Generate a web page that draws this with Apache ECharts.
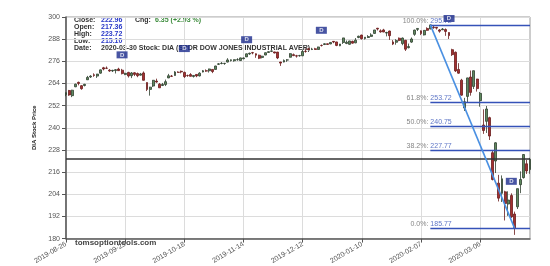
<!DOCTYPE html>
<html><head><meta charset="utf-8">
<script src="https://cdn.jsdelivr.net/npm/echarts@6/dist/echarts.min.js"></script>
<style>html,body{margin:0;padding:0;background:#fff}#c{width:550px;height:266px}</style>
</head><body><div id="c"></div>
<script>
const dates = [
'2019-08-26','2019-08-27','2019-08-28','2019-08-29','2019-08-30',
'2019-09-03','2019-09-04','2019-09-05','2019-09-06','2019-09-09','2019-09-10','2019-09-11','2019-09-12','2019-09-13',
'2019-09-16','2019-09-17','2019-09-18','2019-09-19','2019-09-20','2019-09-23','2019-09-24','2019-09-25','2019-09-26','2019-09-27','2019-09-30',
'2019-10-01','2019-10-02','2019-10-03','2019-10-04','2019-10-07','2019-10-08','2019-10-09','2019-10-10','2019-10-11',
'2019-10-14','2019-10-15','2019-10-16','2019-10-17','2019-10-18','2019-10-21','2019-10-22','2019-10-23','2019-10-24','2019-10-25',
'2019-10-28','2019-10-29','2019-10-30','2019-10-31','2019-11-01','2019-11-04','2019-11-05','2019-11-06','2019-11-07','2019-11-08',
'2019-11-11','2019-11-12','2019-11-13','2019-11-14','2019-11-15','2019-11-18','2019-11-19','2019-11-20','2019-11-21','2019-11-22',
'2019-11-25','2019-11-26','2019-11-27','2019-11-29','2019-12-02','2019-12-03','2019-12-04','2019-12-05','2019-12-06',
'2019-12-09','2019-12-10','2019-12-11','2019-12-12','2019-12-13','2019-12-16','2019-12-17','2019-12-18','2019-12-19','2019-12-20',
'2019-12-23','2019-12-24','2019-12-26','2019-12-27','2019-12-30','2019-12-31','2020-01-02','2020-01-03',
'2020-01-06','2020-01-07','2020-01-08','2020-01-09','2020-01-10','2020-01-13','2020-01-14','2020-01-15','2020-01-16','2020-01-17',
'2020-01-21','2020-01-22','2020-01-23','2020-01-24','2020-01-27','2020-01-28','2020-01-29','2020-01-30','2020-01-31',
'2020-02-03','2020-02-04','2020-02-05','2020-02-06','2020-02-07','2020-02-10','2020-02-11','2020-02-12','2020-02-13','2020-02-14',
'2020-02-18','2020-02-19','2020-02-20','2020-02-21','2020-02-24','2020-02-25','2020-02-26','2020-02-27','2020-02-28',
'2020-03-02','2020-03-03','2020-03-04','2020-03-05','2020-03-06','2020-03-09','2020-03-10','2020-03-11','2020-03-12','2020-03-13',
'2020-03-16','2020-03-17','2020-03-18','2020-03-19','2020-03-20','2020-03-23','2020-03-24','2020-03-25','2020-03-26','2020-03-27','2020-03-30'
];
const opens = [258.0,260.2,257.4,262.2,264.6,262.8,262.9,266.0,267.5,268.7,268.0,269.6,272.5,272.3,271.2,270.8,271.0,271.8,271.2,268.9,
270.0,268.2,269.8,269.4,268.5,269.7,264.5,260.8,262.6,265.3,263.6,262.9,263.4,267.0,268.0,268.3,270.1,270.6,270.0,268.3,
268.8,267.8,268.9,268.1,270.2,270.9,270.9,271.6,271.6,274.4,274.8,274.8,275.6,276.4,276.3,276.9,276.4,277.4,278.4,280.0,
280.7,280.1,279.3,278.1,279.4,280.8,281.4,281.1,281.0,275.6,275.6,276.7,278.2,279.6,279.0,279.0,279.0,281.4,282.8,282.4,
282.8,282.4,284.6,285.1,285.5,285.4,286.8,286.5,284.4,286.2,285.7,285.2,286.8,286.0,288.9,290.2,288.3,288.9,289.5,291.1,
293.9,292.5,293.0,291.3,292.4,286.5,286.3,288.5,285.6,287.4,283.4,286.4,290.6,293.3,292.5,290.3,293.8,293.5,294.5,294.4,
293.0,293.1,293.2,291.6,282.3,280.9,271.6,265.8,250.7,257.0,267.5,262.4,266.4,254.7,241.5,243.5,245.5,226.5,222.0,210.0,
204.5,205.3,198.7,203.3,193.3,197.2,209.2,213.0,220.5,217.36];
const highs = [259.1,260.5,260.6,263.9,265.0,263.1,263.8,268.1,268.5,269.5,269.2,271.5,273.0,273.2,271.8,271.4,271.8,272.5,271.9,269.8,
270.3,270.2,270.1,269.9,269.7,270.5,264.6,262.2,265.9,266.6,264.2,264.3,266.1,269.2,268.6,270.7,270.6,271.0,270.4,268.8,
269.6,268.5,269.1,270.1,271.3,271.6,272.0,271.7,273.6,275.0,275.6,275.1,277.7,277.0,277.0,277.7,278.0,278.1,280.2,280.7,
281.1,280.3,279.6,279.0,280.8,281.4,281.9,281.2,281.1,275.7,277.0,277.2,280.4,280.2,279.5,279.5,282.4,282.9,283.3,283.3,
283.3,283.9,285.1,285.8,285.6,286.3,287.0,286.6,285.4,288.7,287.3,287.1,287.2,288.6,289.9,290.4,289.1,290.2,291.2,293.0,
294.1,293.3,293.6,292.0,292.6,287.5,288.0,288.9,288.9,287.6,285.6,288.9,293.1,293.8,292.7,292.9,294.4,295.9,295.4,294.6,
293.5,294.0,293.8,291.7,282.8,281.3,275.0,266.5,256.2,267.1,271.0,271.0,266.5,259.4,250.0,251.8,246.0,227.5,232.2,214.5,
214.2,205.9,205.6,204.5,194.6,207.1,216.4,225.7,222.6,223.72];
const lows = [257.1,257.3,256.6,262.0,263.0,260.6,262.4,265.9,267.0,267.6,267.0,269.3,271.1,271.8,270.3,270.2,269.4,270.8,268.9,268.5,
267.2,266.9,268.0,267.4,268.3,265.6,259.9,257.4,262.1,264.4,261.6,262.6,262.6,266.9,267.6,268.2,269.8,269.5,267.0,267.6,
267.8,267.2,267.4,267.8,270.0,270.3,269.9,269.6,271.5,274.0,274.4,274.1,275.4,275.9,275.8,276.3,276.2,277.1,278.3,279.5,
279.8,277.9,277.2,277.6,279.3,280.6,281.0,280.3,277.2,273.5,275.4,275.7,278.1,278.8,278.0,278.5,278.8,280.7,282.3,282.1,
282.3,282.3,284.0,284.8,284.9,285.3,285.8,284.2,284.2,285.4,285.3,285.0,285.6,285.8,288.5,287.8,287.8,288.6,289.3,291.0,
292.7,291.5,291.8,289.5,287.6,284.8,285.0,286.9,284.7,281.6,283.0,286.0,289.8,292.4,290.2,290.0,292.5,293.4,293.6,293.2,
291.5,292.9,289.8,288.1,278.9,270.2,269.3,257.4,249.1,253.5,257.4,261.0,259.6,251.4,236.7,237.2,233.4,211.5,215.5,200.1,
199.8,189.8,192.3,191.2,182.0,196.0,204.6,212.5,215.0,215.10];
const closes = [258.98,257.78,260.36,263.62,264.03,261.18,263.55,267.28,267.97,268.35,269.09,271.37,271.82,272.19,270.76,271.10,271.47,270.94,269.35,269.49,
268.07,269.70,268.91,268.20,269.17,265.73,260.78,262.01,265.73,264.78,261.64,263.46,264.97,268.16,267.87,270.24,270.01,270.26,267.70,268.27,
267.88,268.34,268.06,269.58,270.91,270.71,271.86,270.46,273.47,274.62,274.92,274.93,276.75,276.81,276.91,276.91,277.84,277.82,280.05,280.36,
280.53,279.34,277.67,278.76,280.67,281.22,281.64,280.51,277.83,275.03,276.50,276.77,280.15,279.10,278.82,279.12,281.33,281.35,282.36,282.68,
282.40,283.77,284.55,285.51,285.16,286.22,286.45,284.62,285.38,288.68,286.35,287.03,285.84,287.45,289.57,288.24,289.07,289.40,290.30,292.98,
293.48,291.96,291.86,291.60,289.90,285.35,287.23,287.34,288.59,282.56,283.99,288.08,292.91,293.80,291.03,292.76,292.77,295.72,294.24,293.98,
292.33,293.48,292.20,289.92,279.61,270.81,269.57,257.67,254.09,267.03,259.17,270.91,261.21,258.65,238.51,250.18,235.53,212.00,231.86,201.89,
212.37,198.99,200.87,191.74,185.77,207.04,212.01,225.52,216.61,222.96];

const yTicks = {min:180, max:300, step:12};
const fibPct = ['100.0%:','61.8%:','50.0%:','38.2%:','0.0%:'];
const fibVal = [295.72,253.72,240.75,227.77,185.77];
const fibStart = '2020-02-12', fibEnd = '2020-03-30';
const trendFrom = ['2020-02-12', 295.72], trendTo = ['2020-03-23', 185.77];
const lastClose = 222.96;
const divDates = ['2019-09-20','2019-10-18','2019-11-15','2019-12-20','2020-02-21','2020-03-20'];
const divY = [279.5,282.9,287.7,292.8,299.2,211.0];
const infoLabels = ['Close:','Open:','High:','Low:','Date:'];
const infoValues = ['222.96','217.36','223.72','215.10','2020-03-30 Stock: DIA (SPDR DOW JONES INDUSTRIAL AVER)'];
const chgText = '6.35 (+2.93 %)';

const candleData = dates.map((d,i)=>[opens[i],closes[i],lows[i],highs[i]]);
const chart = echarts.init(document.getElementById('c'), null, {renderer:'canvas'});
const fnt = 'Liberation Sans, Arial, sans-serif';
const fibLines = fibVal.map(v=>[{coord:[fibStart,v]},{coord:[fibEnd,v]}]);

const infoGraphics = [];
infoLabels.forEach((l,i)=>{
  const y = 20 + i*6.9;
  infoGraphics.push({type:'text',x:74,y:y,style:{text:l,font:'bold 7px '+fnt,fill:'#333',verticalAlign:'middle'}});
  infoGraphics.push({type:'text',x:101,y:y,style:{text:infoValues[i],font:'bold 7px '+fnt,fill:i===4?'#333':'#2838c8',verticalAlign:'middle'}});
});
infoGraphics.push({type:'text',x:135,y:20,style:{text:'Chg:',font:'bold 7px '+fnt,fill:'#333',verticalAlign:'middle'}});
infoGraphics.push({type:'text',x:155,y:20,style:{text:chgText,font:'bold 7px '+fnt,fill:'#3a8a3a',verticalAlign:'middle'}});
infoGraphics.push({type:'text',x:75,y:243,style:{text:'tomsoptiontools.com',font:'bold 8px '+fnt,fill:'#444',verticalAlign:'middle'}});

chart.setOption({
  animation:false,
  backgroundColor:'#fff',
  grid:{left:66,right:20,top:17,bottom:17,show:true,borderColor:'#9a9a9a',borderWidth:1},
  xAxis:{type:'category',data:dates,boundaryGap:false,
    axisLine:{lineStyle:{color:'#555',width:1.5}},
    axisTick:{interval:18,length:4,lineStyle:{color:'#555'}},
    axisLabel:{interval:18,rotate:30,fontSize:7,color:'#555',fontFamily:fnt,margin:5},
    splitLine:{show:true,interval:18,lineStyle:{color:'#dcdcdc',width:1}}},
  yAxis:{type:'value',min:yTicks.min,max:yTicks.max,interval:yTicks.step,
    name:'DIA Stock Price',nameLocation:'middle',nameGap:22,
    nameTextStyle:{fontSize:6,color:'#222',fontFamily:fnt,fontWeight:'bold'},
    axisLine:{show:true,lineStyle:{color:'#555',width:1.5}},
    axisTick:{show:true,length:4,lineStyle:{color:'#555'}},
    axisLabel:{fontSize:7,color:'#555',fontFamily:fnt,margin:6},
    splitLine:{lineStyle:{color:'#dcdcdc',width:1}}},
  series:[
    {type:'candlestick',data:candleData,barMaxWidth:3,barWidth:2.4,
      itemStyle:{color:'#5f8a5f',color0:'#a33030',borderColor:'#2f3f2f',borderColor0:'#6a1c1c',borderWidth:0.8},
      markLine:{silent:true,symbol:['none','none'],animation:false,label:{show:false},
        data:[
          {yAxis:lastClose,lineStyle:{color:'#333',width:1.5,type:'solid'}},
          ...fibLines.map(l=>[Object.assign({},l[0],{lineStyle:{color:'#3552b8',width:1.4,type:'solid'}}),l[1]]),
          [{coord:trendFrom,lineStyle:{color:'#4a90e2',width:1.6,type:'solid'}},{coord:trendTo}]
        ]}},
    {type:'scatter',symbolSize:0,silent:true,z:5,
      data:fibVal.map((v,i)=>[fibStart,v,fibPct[i]]),
      label:{show:true,position:'left',distance:2,offset:[0,-4],formatter:p=>p.value[2],fontSize:7,color:'#666',fontFamily:fnt}},
    {type:'scatter',symbolSize:0,silent:true,z:5,
      data:fibVal.map(v=>[fibStart,v]),
      label:{show:true,position:'right',distance:0,offset:[0,-4],formatter:p=>p.value[1].toFixed(2),fontSize:7,color:'#3552b8',fontFamily:fnt}},
    {type:'scatter',symbol:'rect',symbolSize:[11,7],silent:true,z:6,
      data:divDates.map((d,i)=>[d,divY[i]]),
      itemStyle:{color:'#1a2a8c'},
      label:{show:true,position:'inside',formatter:'D',fontSize:6,fontWeight:'bold',color:'#fff',fontFamily:fnt}}
  ],
  graphic:infoGraphics
});
</script></body></html>
